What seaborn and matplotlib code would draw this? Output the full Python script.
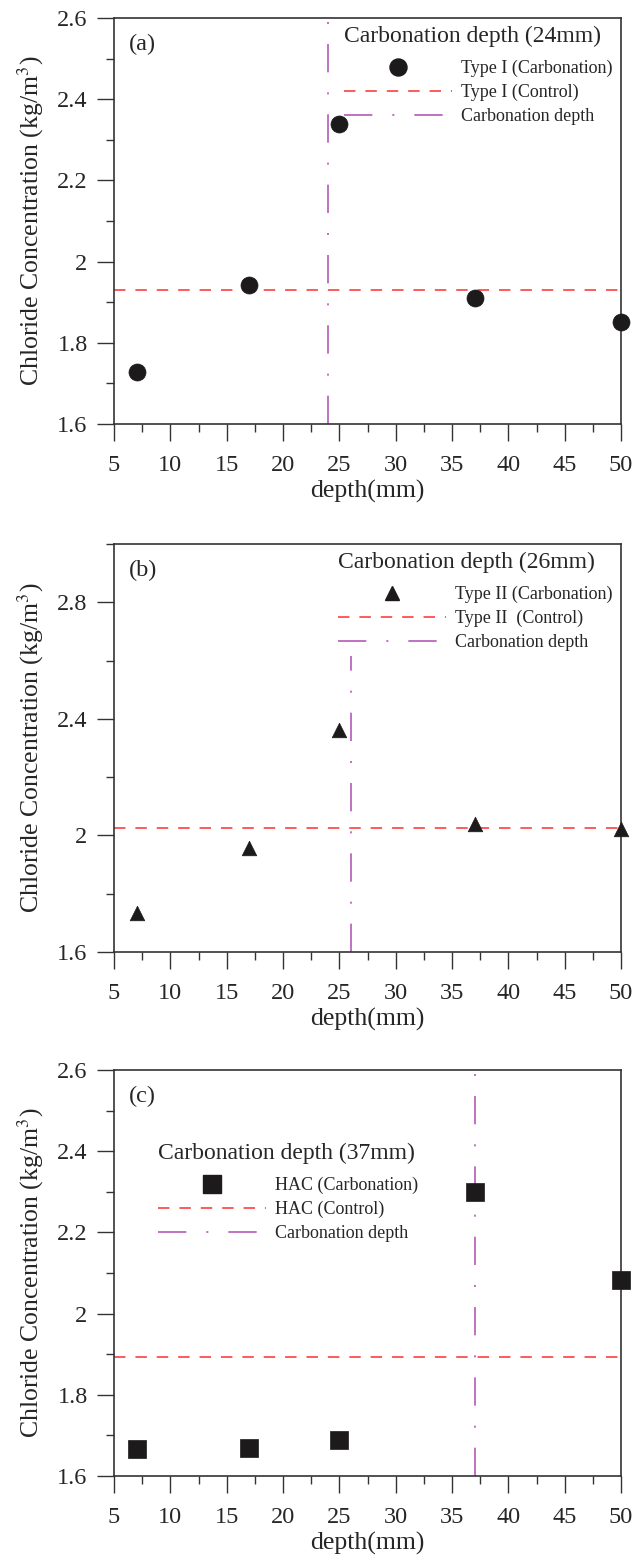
import matplotlib
matplotlib.use('Agg')
import matplotlib.pyplot as plt
import seaborn as sns
import pandas as pd
from matplotlib.ticker import MultipleLocator, FuncFormatter
from matplotlib.lines import Line2D

# ---- data ----
depth = [7, 17, 25, 37, 50]
type1_carbonation = [1.727, 1.943, 2.340, 1.911, 1.852]
type2_carbonation = [1.733, 1.957, 2.361, 2.038, 2.023]
hac_carbonation = [1.666, 1.669, 1.688, 2.299, 2.083]
control_values = [1.930, 2.027, 1.894]
carbonation_depths = [24, 26, 37]
panel_tags = ['(a)', '(b)', '(c)']
carb_labels = ['Type I (Carbonation)', 'Type II (Carbonation)', 'HAC (Carbonation)']
control_labels = ['Type I (Control)', 'Type II  (Control)', 'HAC (Control)']
vline_label = 'Carbonation depth'
y_limits = [(1.6, 2.6), (1.6, 3.0), (1.6, 2.6)]
y_major = [0.2, 0.4, 0.2]
x_ticks = [5, 10, 15, 20, 25, 30, 35, 40, 45, 50]

sns.set_theme(style='ticks')
plt.rcParams['font.family'] = ['Liberation Serif', 'DejaVu Serif']
plt.rcParams['mathtext.fontset'] = 'stix'

fig = plt.figure(figsize=(6.43, 15.59), dpi=100)
W, H = 643, 1559
left, right = 114, 621
panels_px = [(18, 424), (544, 952), (1070, 1476)]

series = [type1_carbonation, type2_carbonation, hac_carbonation]
markers = ['o', '^', 's']
sizes = [150, 110, 160]

red = '#ff2e2e'
purple = '#b45ab8'
dark = '#1c1a1a'
vdash = (0, (17, 12, 1.2, 12))
rdash = (0, (7.5, 6.5))

for i in range(3):
    top, bot = panels_px[i]
    ax = fig.add_axes([left / W, 1 - bot / H, (right - left) / W, (bot - top) / H])
    df = pd.DataFrame({'depth': depth, 'conc': series[i]})
    sns.scatterplot(data=df, x='depth', y='conc', marker=markers[i], s=sizes[i],
                    color=dark, edgecolor=dark, linewidth=0.5, ax=ax,
                    clip_on=False, zorder=6, legend=False)
    ax.axhline(control_values[i], color=red, lw=1.1, linestyle=rdash, zorder=2)
    ax.axvline(carbonation_depths[i], color=purple, lw=1.2, linestyle=vdash, zorder=2)

    ax.set_xlim(5, 50)
    ax.set_ylim(*y_limits[i])
    ax.set_xticks(x_ticks)
    ax.xaxis.set_minor_locator(MultipleLocator(2.5))
    ax.yaxis.set_major_locator(MultipleLocator(y_major[i]))
    ax.yaxis.set_minor_locator(MultipleLocator(y_major[i] / 2))
    ax.yaxis.set_major_formatter(FuncFormatter(lambda v, p: '%g' % round(v, 2)))
    ax.tick_params(which='major', direction='out', length=12, width=1.0,
                   labelsize=17.5, color='#333333', pad=7, top=False, right=False)
    ax.tick_params(which='minor', direction='out', length=6, width=1.0,
                   color='#333333', top=False, right=False)
    ax.tick_params(axis='x', which='major', pad=10)
    for sp in ax.spines.values():
        sp.set_color('#333333')
        sp.set_linewidth(1.2)
        sp.set_visible(True)
    ax.set_xlabel('depth(mm)', fontsize=18.5, labelpad=3)
    ax.set_ylabel('Chloride Concentration (kg/m$^3$)', fontsize=18.5, labelpad=8)
    ax.text(0.03, 0.935, panel_tags[i], transform=ax.transAxes, fontsize=17.5,
            va='center', ha='left')

    handles = [
        Line2D([], [], linestyle='none', marker=markers[i], markersize=(sizes[i]) ** 0.5,
               color=dark),
        Line2D([], [], color=red, lw=1.1, linestyle=rdash),
        Line2D([], [], color=purple, lw=1.2, linestyle=vdash),
    ]
    labels = [carb_labels[i], control_labels[i], vline_label]
    title = 'Carbonation depth (%dmm)' % carbonation_depths[i]
    if i < 2:
        loc, anchor = 'upper right', (1.0, 1.0)
    else:
        loc, anchor = 'upper left', (0.07, 0.84)
    leg = ax.legend(handles, labels, title=title, loc=loc, bbox_to_anchor=anchor,
                    fontsize=13, title_fontsize=17, frameon=True, facecolor='white',
                    edgecolor='none', framealpha=1, fancybox=False,
                    handlelength=6, handletextpad=0.5, labelspacing=0.38,
                    borderpad=0.25, borderaxespad=0.2, alignment='left')
    leg._legend_box.sep = 9
    leg.set_zorder(5)

fig.savefig('out.png', dpi=100)
